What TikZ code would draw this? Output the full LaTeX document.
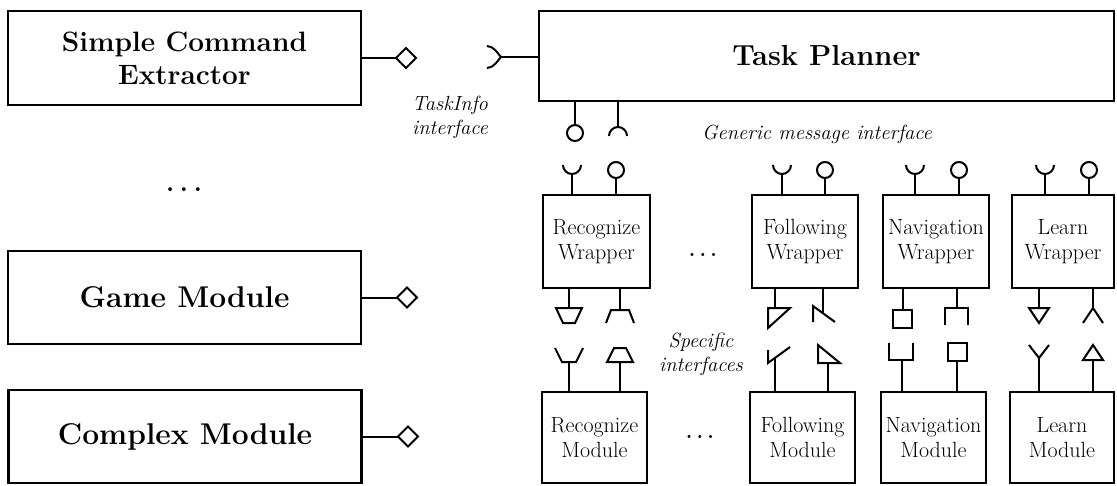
\documentclass[tikz,border=0pt]{standalone}
\usepackage{fontspec}
\begin{document}
\begin{tikzpicture}[x=1pt,y=-1pt,line width=2pt,
  box/.style={draw,line width=2.4pt,inner sep=0pt,align=center},
  titletxt/.style={font=\fontsize{28}{33}\selectfont\bfseries},
  bigtxt/.style={font=\fontsize{30}{34}\selectfont\bfseries},
  smalltxt/.style={font=\fontsize{22}{25}\selectfont},
  lbl/.style={font=\fontsize{20.5}{24}\selectfont\itshape,align=center,inner sep=0pt},
  dots/.style={inner sep=0pt},
  % provided interface: ball hanging below / standing above the stem end
  lolliBelow/.pic={\draw (0,8) circle[radius=8];},
  lolliAbove/.pic={\draw (0,-8) circle[radius=8];},
  % required interface: socket arcs
  capDown/.pic={\draw (-9,9) arc[start angle=180,end angle=360,radius=9];},
  cupUp/.pic={\draw (-9,-9) arc[start angle=180,end angle=0,radius=9];},
  % trapezoid pair
  trapPlugTop/.pic={\draw (-13,0) -- (13,0) -- (6,15) -- (-6,15) -- cycle;},
  trapSockTop/.pic={\draw (-14,13) -- (-9,0) -- (9,0) -- (14,13);},
  trapSockBot/.pic={\draw (-14,-14) -- (-7,0) -- (7,0) -- (14,-14);},
  trapPlugBot/.pic={\draw (-13,0) -- (13,0) -- (6,-14) -- (-6,-14) -- cycle;},
  % wedge pair
  wedgePlugTop/.pic={\draw (-7,0) -- (15,0) -- (-7,20) -- cycle;},
  wedgeSockTop/.pic={\draw (-10,9) -- (-10,-7) -- (12,9);},
  wedgeSockBot/.pic={\draw (-7,-8) -- (-7,5) -- (15,-11);},
  wedgePlugBot/.pic={\draw (-10,-18) -- (-10,0) -- (12,0) -- cycle;},
  % square pair
  sqPlugTop/.pic={\draw (-10,0) rectangle (9,18);},
  sqSockTop/.pic={\draw (-12,17) -- (-12,0) -- (11,0) -- (11,17);},
  sqSockBot/.pic={\draw (-13,-17) -- (-13,0) -- (11,0) -- (11,-17);},
  sqPlugBot/.pic={\draw (-9,-18) rectangle (10,0);},
  % triangle pair
  triPlugTop/.pic={\draw (-10,0) -- (10,0) -- (0,15) -- cycle;},
  vSockTop/.pic={\draw (-10,15) -- (0,0) -- (10,15);},
  vSockBot/.pic={\draw (-10,-13) -- (0,0) -- (10,-13);},
  triPlugBot/.pic={\draw (-10,0) -- (10,0) -- (0,-15) -- cycle;},
  % TaskInfo interface ends
  diamondR/.pic={\draw (0,0) -- (10,-10) -- (20,0) -- (10,10) -- cycle;},
  forkL/.pic={\draw[line join=miter] (-14,-11) .. controls (-7,-11) and (-3,-3) .. (0,0)
                    .. controls (-3,3) and (-7,11) .. (-14,11);}
]
\useasboundingbox (0,0) rectangle (1117,485);

% ---------- left column ----------
\node[box,minimum width=353,minimum height=94,titletxt] (sce) at (184.5,58)
  {Simple Command\\Extractor};
\node[box,minimum width=353,minimum height=93,bigtxt] (game) at (184.5,297.5)
  {Game Module};
\node[box,minimum width=353,minimum height=93,bigtxt] (cplx) at (185,436.5)
  {Complex Module};
\node[dots,font=\fontsize{26}{26}\selectfont\bfseries] (ldots) at (184,190) {.\kern.22em.\kern.22em.};

\coordinate (sce-p)  at (396,58);
\coordinate (game-p) at (397,297.5);
\coordinate (cplx-p) at (398,436.5);
\draw (sce.east |- sce-p) -- (sce-p);   \pic at (sce-p) {diamondR};
\draw (game.east |- game-p) -- (game-p); \pic at (game-p) {diamondR};
\draw (cplx.east |- cplx-p) -- (cplx-p); \pic at (cplx-p) {diamondR};

% ---------- task planner ----------
\node[box,minimum width=575,minimum height=90,font=\fontsize{29}{34}\selectfont\bfseries] (tp) at (826.5,56) {Task Planner};
\coordinate (tp-in) at (501,57);
\draw (tp-in) -- (tp-in -| tp.west); \pic at (tp-in) {forkL};
\node[lbl] (tinfo) at (450,117) {TaskInfo\\interface};

\coordinate (tp-a) at (575,125);
\coordinate (tp-b) at (618,127);
\draw (tp.south -| tp-a) -- (tp-a); \pic at (tp-a) {lolliBelow};
\draw (tp.south -| tp-b) -- (tp-b); \pic at (tp-b) {capDown};
\node[lbl] (gmi) at (817,134) {Generic message interface};

% ---------- wrappers ----------
\node[box,minimum width=107,minimum height=93,smalltxt] (rw) at (596.5,241.5) {Recognize\\Wrapper};
\node[box,minimum width=106,minimum height=93,smalltxt] (fw) at (805,241.5) {Following\\Wrapper};
\node[box,minimum width=106,minimum height=93,smalltxt] (nw) at (936,241.5) {Navigation\\Wrapper};
\node[box,minimum width=102,minimum height=93,smalltxt] (lw) at (1063,241.5) {Learn\\Wrapper};
\node[dots,font=\fontsize{21}{21}\selectfont\bfseries] (wdots) at (703,255) {.\kern.2em.\kern.2em.};

% generic ports on top of each wrapper
\foreach \w/\s/\b in {rw/572/616, fw/782/825, nw/915/959, lw/1045/1089}{
  \coordinate (\w-s) at (\s,174);
  \coordinate (\w-b) at (\b,178);
  \draw (\w.north -| \w-s) -- (\w-s); \pic at (\w-s) {cupUp};
  \draw (\w.north -| \w-b) -- (\w-b); \pic at (\w-b) {lolliAbove};
}

% specific ports below each wrapper
\coordinate (rw-l) at (569,308);  \coordinate (rw-r) at (620,310);
\coordinate (fw-l) at (775,308);  \coordinate (fw-r) at (823,313);
\coordinate (nw-l) at (903,310);  \coordinate (nw-r) at (957,308);
\coordinate (lw-l) at (1039,308); \coordinate (lw-r) at (1093,308);
\foreach \p in {rw-l,rw-r}{\draw (rw.south -| \p) -- (\p);}
\foreach \p in {fw-l,fw-r}{\draw (fw.south -| \p) -- (\p);}
\foreach \p in {nw-l,nw-r}{\draw (nw.south -| \p) -- (\p);}
\foreach \p in {lw-l,lw-r}{\draw (lw.south -| \p) -- (\p);}
\pic at (rw-l) {trapPlugTop};  \pic at (rw-r) {trapSockTop};
\pic at (fw-l) {wedgePlugTop}; \pic at (fw-r) {wedgeSockTop};
\pic at (nw-l) {sqPlugTop};    \pic at (nw-r) {sqSockTop};
\pic at (lw-l) {triPlugTop};   \pic at (lw-r) {vSockTop};

\node[lbl] (spec) at (701,354) {Specific\\interfaces};

% ---------- modules ----------
\node[box,minimum width=105,minimum height=91,smalltxt] (rm) at (594.5,437.5) {Recognize\\Module};
\node[box,minimum width=105,minimum height=91,smalltxt] (fm) at (802.5,437.5) {Following\\Module};
\node[box,minimum width=105,minimum height=91,smalltxt] (nm) at (933.5,437.5) {Navigation\\Module};
\node[box,minimum width=104,minimum height=91,smalltxt] (lm) at (1062,437.5) {Learn\\Module};
\node[dots,font=\fontsize{21}{21}\selectfont\bfseries] (mdots) at (700,437) {.\kern.2em.\kern.2em.};

\coordinate (rm-l) at (569,362);  \coordinate (rm-r) at (620,362);
\coordinate (fm-l) at (775,358);  \coordinate (fm-r) at (828,363);
\coordinate (nm-l) at (902,360);  \coordinate (nm-r) at (957,361);
\coordinate (lm-l) at (1039,358); \coordinate (lm-r) at (1093,360);
\foreach \p in {rm-l,rm-r}{\draw (rm.north -| \p) -- (\p);}
\foreach \p in {fm-l,fm-r}{\draw (fm.north -| \p) -- (\p);}
\foreach \p in {nm-l,nm-r}{\draw (nm.north -| \p) -- (\p);}
\foreach \p in {lm-l,lm-r}{\draw (lm.north -| \p) -- (\p);}
\pic at (rm-l) {trapSockBot};  \pic at (rm-r) {trapPlugBot};
\pic at (fm-l) {wedgeSockBot}; \pic at (fm-r) {wedgePlugBot};
\pic at (nm-l) {sqSockBot};    \pic at (nm-r) {sqPlugBot};
\pic at (lm-l) {vSockBot};     \pic at (lm-r) {triPlugBot};
\end{tikzpicture}
\end{document}
